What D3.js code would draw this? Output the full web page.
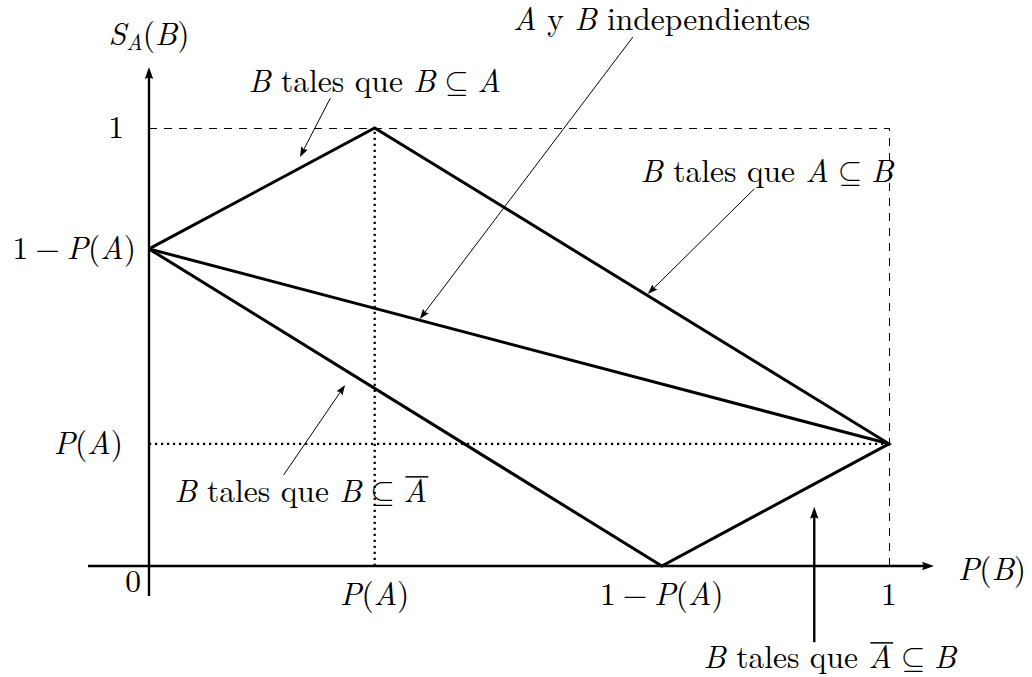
<!DOCTYPE html>
<html>
<head>
<meta charset="utf-8">
<script src="https://cdn.jsdelivr.net/npm/d3@7"></script>
</head>
<body style="margin:0;padding:0;background:#fff">
<svg id="chart" width="1032" height="677" style="display:block"></svg>
<script>
// Feasible region of S_A(B) as a function of P(B): polygon vertices (P(B), S_A(B))
const boundaryPB = [0, 0.305, 1, 0.693, 0];
const boundarySA = [0.724, 1, 0.279, 0, 0.724];

// Independence segment between the left and right vertices
const independencePB = [0, 1];
const independenceSA = [0.724, 0.279];

// Reference guides: P(A) on each axis
const guidePAonPB = 0.305;
const guidePAonSA = 0.279;

// Tick labels
const xTickValues = [0.305, 0.693, 1];
const xTickLabels = ["$P(A)$", "$1 − P(A)$", "$1$"];
const yTickValues = [1, 0.724, 0.279];
const yTickLabels = ["$1$", "$1 − P(A)$", "$P(A)$"];

// Annotations: text anchor and arrow start/end in data units
const noteTexts = [
  "$B$ tales que $B ⊆ A$",
  "$A$ y $B$ independientes",
  "$B$ tales que $A ⊆ B$",
  "$B$ tales que $B ⊆ ~A$",
  "$B$ tales que $~A ⊆ B$"
];
const noteTextPB = [0.305, 0.693, 0.835, 0.205, 0.920];
const noteTextSA = [1.082, 1.224, 0.877, 0.146, -0.233];
const noteFromPB = [0.245, 0.654, 0.818, 0.182, 0.899];
const noteFromSA = [1.068, 1.208, 0.861, 0.208, -0.174];
const noteToPB   = [0.204, 0.366, 0.674, 0.265, 0.899];
const noteToSA   = [0.934, 0.564, 0.621, 0.413, 0.135];
const noteHeavy  = [false, false, false, false, true];

const FS = 31.5;
const FONT = '"Latin Modern Roman", "CMU Serif", "Liberation Serif", serif';
const SYMFONT = '"Latin Modern Math", "Noto Serif CJK SC", "DejaVu Serif", serif';

const svg = d3.select("#chart");
const x = d3.scaleLinear().domain([0, 1]).range([149, 889]);
const y = d3.scaleLinear().domain([0, 1]).range([566, 128]);

// Writes a small TeX-like string: $...$ is math (letters italic, spaces
// replaced by math spacing), _X is a subscript, ~X puts a bar over X.
function texText(sel, str, fs) {
  sel.style("font-family", FONT).attr("font-size", fs).attr("fill", "#000")
     .style("white-space", "pre");
  const bars = [];
  let idx = 0;
  let pendingDy = 0, pendingDx = 0;
  const add = (t, italic, opts) => {
    opts = opts || {};
    const ts = sel.append("tspan").text(t).style("font-family", opts.sym ? SYMFONT : FONT);
    if (italic) ts.attr("font-style", "italic");
    let dy = pendingDy, dx = pendingDx + (opts.dx || 0);
    pendingDy = 0; pendingDx = opts.after || 0;
    if (opts.sub) {
      ts.attr("font-size", fs * 0.7);
      dy += fs * 0.17;
      pendingDy = -fs * 0.17;
    }
    if (dy) ts.attr("dy", dy);
    if (dx) ts.attr("dx", dx);
    const start = idx;
    idx += t.length;
    return start;
  };
  str.split("$").forEach((part, i) => {
    if (!part) return;
    if (i % 2 === 0) { add(part, false); return; }
    for (let k = 0; k < part.length; k++) {
      const ch = part[k];
      if (ch === " ") continue;
      if (ch === "_") {
        const s = part[++k];
        add(s, /[A-Za-z]/.test(s), { sub: true });
      } else if (ch === "~") {
        const s = part[++k];
        bars.push(add(s, true));
      } else if (ch === "⊆") {
        add(ch, false, { dx: fs * 0.278, after: fs * 0.278, sym: true });
      } else if (ch === "−") {
        add(ch, false, { dx: fs * 0.222, after: fs * 0.222 });
      } else {
        add(ch, /[A-Za-z]/.test(ch));
      }
    }
  });
  const node = sel.node();
  bars.forEach(ci => {
    const a = node.getStartPositionOfChar(ci);
    const b = node.getEndPositionOfChar(ci);
    d3.select(node.parentNode).append("line")
      .attr("x1", a.x + fs * 0.06).attr("x2", b.x + fs * 0.04)
      .attr("y1", a.y - fs * 0.8).attr("y2", a.y - fs * 0.8)
      .attr("stroke", "#000").attr("stroke-width", 1.5);
  });
}

// Line ending in a filled arrow head at (x2, y2)
function arrow(g, x1, y1, x2, y2, width, len, half) {
  const dx = x2 - x1, dy = y2 - y1;
  const L = Math.hypot(dx, dy);
  const ux = dx / L, uy = dy / L;
  const nx = -uy, ny = ux;
  g.append("line")
    .attr("x1", x1).attr("y1", y1)
    .attr("x2", x2 - ux * len * 0.6).attr("y2", y2 - uy * len * 0.6)
    .attr("stroke", "#000").attr("stroke-width", width);
  const bx = x2 - ux * len, by = y2 - uy * len;
  const mx = x2 - ux * len * 0.85, my = y2 - uy * len * 0.85;
  g.append("path")
    .attr("d", `M${x2},${y2} L${bx + nx * half},${by + ny * half} L${mx},${my} L${bx - nx * half},${by - ny * half} Z`)
    .attr("fill", "#000");
}

const guides = svg.append("g");
// dashed edges of the unit square
guides.append("line")
  .attr("x1", x(0)).attr("x2", x(1)).attr("y1", y(1) + 0.5).attr("y2", y(1) + 0.5)
  .attr("stroke", "#000").attr("stroke-width", 1).attr("stroke-dasharray", "8 7");
guides.append("line")
  .attr("x1", x(1) + 0.5).attr("x2", x(1) + 0.5).attr("y1", y(0)).attr("y2", y(1))
  .attr("stroke", "#000").attr("stroke-width", 1).attr("stroke-dasharray", "8 7");
// dotted P(A) guides
guides.append("line")
  .attr("x1", x(guidePAonPB)).attr("x2", x(guidePAonPB)).attr("y1", y(0)).attr("y2", y(1))
  .attr("stroke", "#000").attr("stroke-width", 2.2).attr("stroke-dasharray", "2.2 3.8");
guides.append("line")
  .attr("x1", x(0)).attr("x2", x(1)).attr("y1", y(guidePAonSA)).attr("y2", y(guidePAonSA))
  .attr("stroke", "#000").attr("stroke-width", 2.2).attr("stroke-dasharray", "2.2 3.8");

// axes
const axes = svg.append("g");
arrow(axes, x(0) - 61, y(0), x(1) + 45, y(0), 2.4, 12, 4.2);
arrow(axes, x(0), y(0) + 30, x(0), y(1) - 61, 2.4, 12, 4.2);

// region boundary and independence line
const line = d3.line().x(d => x(d[0])).y(d => y(d[1]));
svg.append("path")
  .datum(boundaryPB.map((v, i) => [v, boundarySA[i]]))
  .attr("d", line)
  .attr("fill", "none").attr("stroke", "#000").attr("stroke-width", 3)
  .attr("stroke-linejoin", "miter");
svg.append("path")
  .datum(independencePB.map((v, i) => [v, independenceSA[i]]))
  .attr("d", line)
  .attr("fill", "none").attr("stroke", "#000").attr("stroke-width", 3);

// tick labels
const labels = svg.append("g");
xTickValues.forEach((v, i) => {
  const t = labels.append("text")
    .attr("x", x(v)).attr("y", y(0) + 39)
    .attr("text-anchor", "middle");
  texText(t, xTickLabels[i], FS);
});
const yLabelRight = [124, 136, 123];
yTickValues.forEach((v, i) => {
  const t = labels.append("text")
    .attr("x", yLabelRight[i]).attr("y", y(v) + 10)
    .attr("text-anchor", "end");
  texText(t, yTickLabels[i], FS);
});
texText(labels.append("text").attr("x", 141).attr("y", y(0) + 26).attr("text-anchor", "end"), "$0$", FS);

// axis titles
texText(labels.append("text").attr("x", x(0)).attr("y", 45).attr("text-anchor", "middle"), "$S_A(B)$", FS);
texText(labels.append("text").attr("x", x(1) + 69).attr("y", y(0) + 14).attr("text-anchor", "start"), "$P(B)$", FS);

// annotations
const notes = svg.append("g");
noteTexts.forEach((s, i) => {
  const g = notes.append("g");
  arrow(g, x(noteFromPB[i]), y(noteFromSA[i]), x(noteToPB[i]), y(noteToSA[i]),
        noteHeavy[i] ? 2.4 : 1, noteHeavy[i] ? 12 : 10, noteHeavy[i] ? 4.2 : 3.6);
  const t = g.append("text")
    .attr("x", x(noteTextPB[i])).attr("y", y(noteTextSA[i]))
    .attr("text-anchor", "middle");
  texText(t, s, FS);
});
</script>
</body>
</html>
